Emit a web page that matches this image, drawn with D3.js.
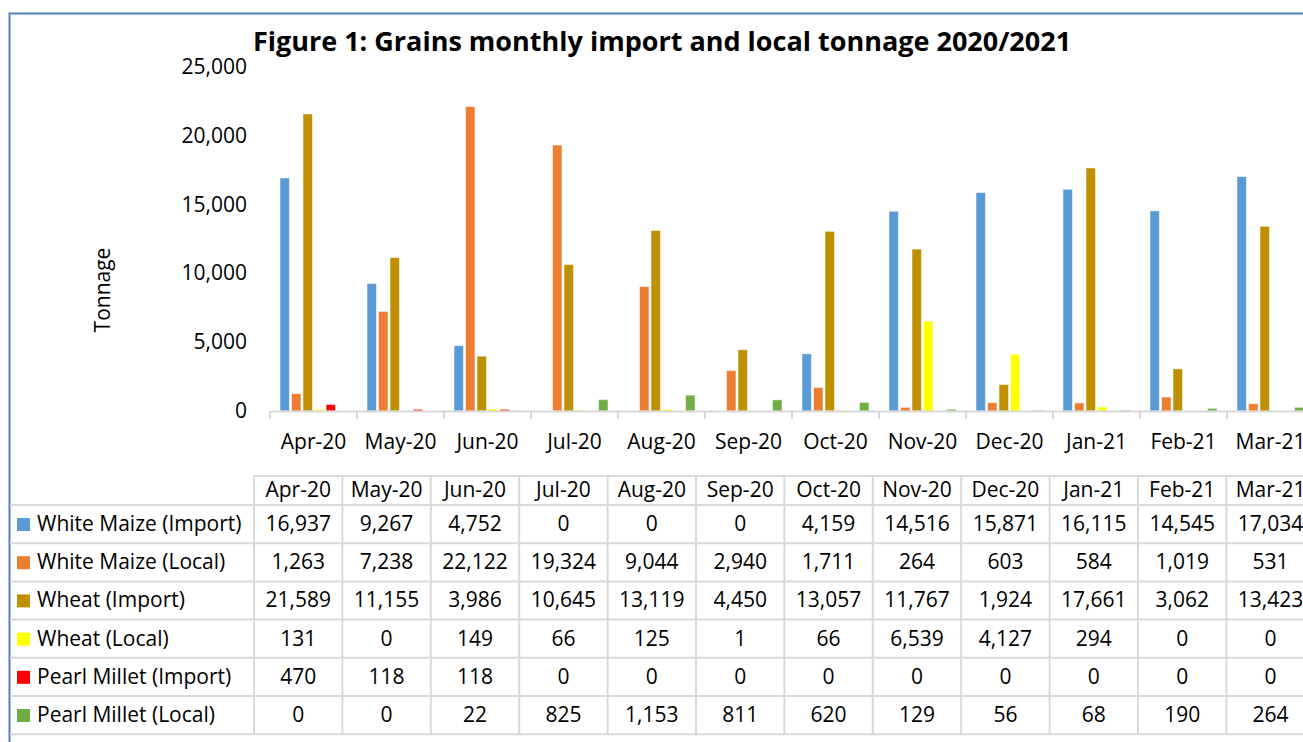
<!DOCTYPE html>
<html>
<head>
<meta charset="utf-8">
<script src="https://cdn.jsdelivr.net/npm/d3@7"></script>
<style>
  body { margin: 0; background: #fff; }
  svg text { font-family: "Open Sans", sans-serif; fill: #000; }
</style>
</head>
<body>
<div id="chart"></div>
<script>
var months = ["Apr-20","May-20","Jun-20","Jul-20","Aug-20","Sep-20","Oct-20","Nov-20","Dec-20","Jan-21","Feb-21","Mar-21"];
var seriesNames = ["White Maize (Import)","White Maize (Local)","Wheat (Import)","Wheat (Local)","Pearl Millet (Import)","Pearl Millet (Local)"];
var seriesColors = ["#5b9bd5","#ed7d31","#bf9000","#ffff00","#ff0000","#70ad47"];
var whiteMaizeImport = [16937,9267,4752,0,0,0,4159,14516,15871,16115,14545,17034];
var whiteMaizeLocal  = [1263,7238,22122,19324,9044,2940,1711,264,603,584,1019,531];
var wheatImport      = [21589,11155,3986,10645,13119,4450,13057,11767,1924,17661,3062,13423];
var wheatLocal       = [131,0,149,66,125,1,66,6539,4127,294,0,0];
var milletImport     = [470,118,118,0,0,0,0,0,0,0,0,0];
var milletLocal      = [0,0,22,825,1153,811,620,129,56,68,190,264];
var yTicks = [0,5000,10000,15000,20000,25000];

var allSeries = [whiteMaizeImport, whiteMaizeLocal, wheatImport, wheatLocal, milletImport, milletLocal];

var W = 1303, H = 742;
var fs = "21px";
var svg = d3.select("#chart").append("svg")
    .attr("width", W)
    .attr("height", H);

// chart frame
svg.append("path")
    .attr("d", "M9.5," + H + "V13.5H" + W)
    .attr("fill", "none")
    .attr("stroke", "#4f81bd")
    .attr("stroke-width", 2);

// title
svg.append("text")
    .attr("x", 662)
    .attr("y", 51)
    .attr("text-anchor", "middle")
    .style("font-size", "27px")
    .style("font-weight", "bold")
    .text("Figure 1: Grains monthly import and local tonnage 2020/2021");

// scales
var x = d3.scaleBand()
    .domain(months)
    .range([270, 270 + 87 * 12]);

var xs = d3.scaleBand()
    .domain(d3.range(allSeries.length))
    .range([10, 77])
    .paddingInner(0.18);

var y = d3.scaleLinear()
    .domain([0, 25000])
    .range([411, 67]);

// y axis labels (no line)
svg.append("g").selectAll("text")
    .data(yTicks)
    .enter()
    .append("text")
      .attr("x", 247)
      .attr("y", function(d) { return y(d) + 7; })
      .attr("text-anchor", "end")
      .style("font-size", fs)
      .text(function(d) { return d3.format(",")(d); });

svg.append("text")
    .attr("transform", "translate(110,290)rotate(-90)")
    .attr("text-anchor", "middle")
    .style("font-size", fs)
    .text("Tonnage");

// bars
var groups = svg.selectAll(".month")
    .data(months)
    .enter()
    .append("g")
      .attr("class", "month")
      .attr("transform", function(d) { return "translate(" + x(d) + ",0)"; });

groups.selectAll("rect")
    .data(function(d, i) {
      return allSeries.map(function(s, j) { return {s: j, v: s[i]}; });
    })
    .enter()
    .append("rect")
      .attr("x", function(d) { return xs(d.s); })
      .attr("y", function(d) { return y(d.v); })
      .attr("width", xs.bandwidth())
      .attr("height", function(d) { return y(0) - y(d.v); })
      .attr("fill", function(d) { return seriesColors[d.s]; })
      .attr("stroke", "#fff")
      .attr("stroke-opacity", 0.5)
      .attr("stroke-width", 1);

// x axis
var xAxis = svg.append("g")
    .attr("transform", "translate(0,411)")
    .call(d3.axisBottom(x).tickSize(0).tickPadding(23));
xAxis.select(".domain").attr("stroke", "#d9d9d9").attr("stroke-width", 2);
xAxis.selectAll("text").style("font-size", fs).attr("fill", "#000");
xAxis.selectAll(".bound")
    .data(d3.range(months.length + 1))
    .enter()
    .append("line")
      .attr("x1", function(i) { return 270 + 87 * i; })
      .attr("x2", function(i) { return 270 + 87 * i; })
      .attr("y1", 0)
      .attr("y2", 8)
      .attr("stroke", "#d9d9d9")
      .attr("stroke-width", 2);

// data table
var tx = d3.scaleBand()
    .domain(months)
    .range([254, 254 + 88.4 * 12]);
var rowTop = 476, headH = 29, rowH = 38.2;
var rowY = function(r) { return rowTop + headH + r * rowH; };
var table = svg.append("g");
var gridColor = "#d9d9d9";

// horizontal lines
table.append("line")
    .attr("x1", 254).attr("x2", W)
    .attr("y1", rowTop).attr("y2", rowTop)
    .attr("stroke", gridColor).attr("stroke-width", 2);
table.selectAll(".hline")
    .data(d3.range(seriesNames.length + 1))
    .enter()
    .append("line")
      .attr("x1", 10).attr("x2", W)
      .attr("y1", function(r) { return rowY(r); })
      .attr("y2", function(r) { return rowY(r); })
      .attr("stroke", gridColor).attr("stroke-width", 2);
// vertical lines
table.selectAll(".vline")
    .data(months)
    .enter()
    .append("line")
      .attr("x1", function(d) { return tx(d); })
      .attr("x2", function(d) { return tx(d); })
      .attr("y1", rowTop)
      .attr("y2", rowY(seriesNames.length))
      .attr("stroke", gridColor).attr("stroke-width", 2);

// header
table.selectAll(".head")
    .data(months)
    .enter()
    .append("text")
      .attr("x", function(d) { return tx(d) + tx.bandwidth() / 2; })
      .attr("y", rowTop + 21)
      .attr("text-anchor", "middle")
      .style("font-size", fs)
      .text(function(d) { return d; });

// row labels with legend keys
var rows = table.selectAll(".row")
    .data(seriesNames)
    .enter()
    .append("g")
      .attr("transform", function(d, i) { return "translate(0," + rowY(i) + ")"; });
rows.append("rect")
    .attr("x", 17)
    .attr("y", 13)
    .attr("width", 13)
    .attr("height", 13)
    .attr("fill", function(d, i) { return seriesColors[i]; });
rows.append("text")
    .attr("x", 37)
    .attr("y", 26)
    .style("font-size", fs)
    .text(function(d) { return d; });
rows.each(function(d, i) {
  d3.select(this).selectAll(".val")
    .data(allSeries[i])
    .enter()
    .append("text")
      .attr("x", function(v, j) { return tx(months[j]) + tx.bandwidth() / 2; })
      .attr("y", 26)
      .attr("text-anchor", "middle")
      .style("font-size", fs)
      .text(function(v) { return d3.format(",")(v); });
});
</script>
</body>
</html>
